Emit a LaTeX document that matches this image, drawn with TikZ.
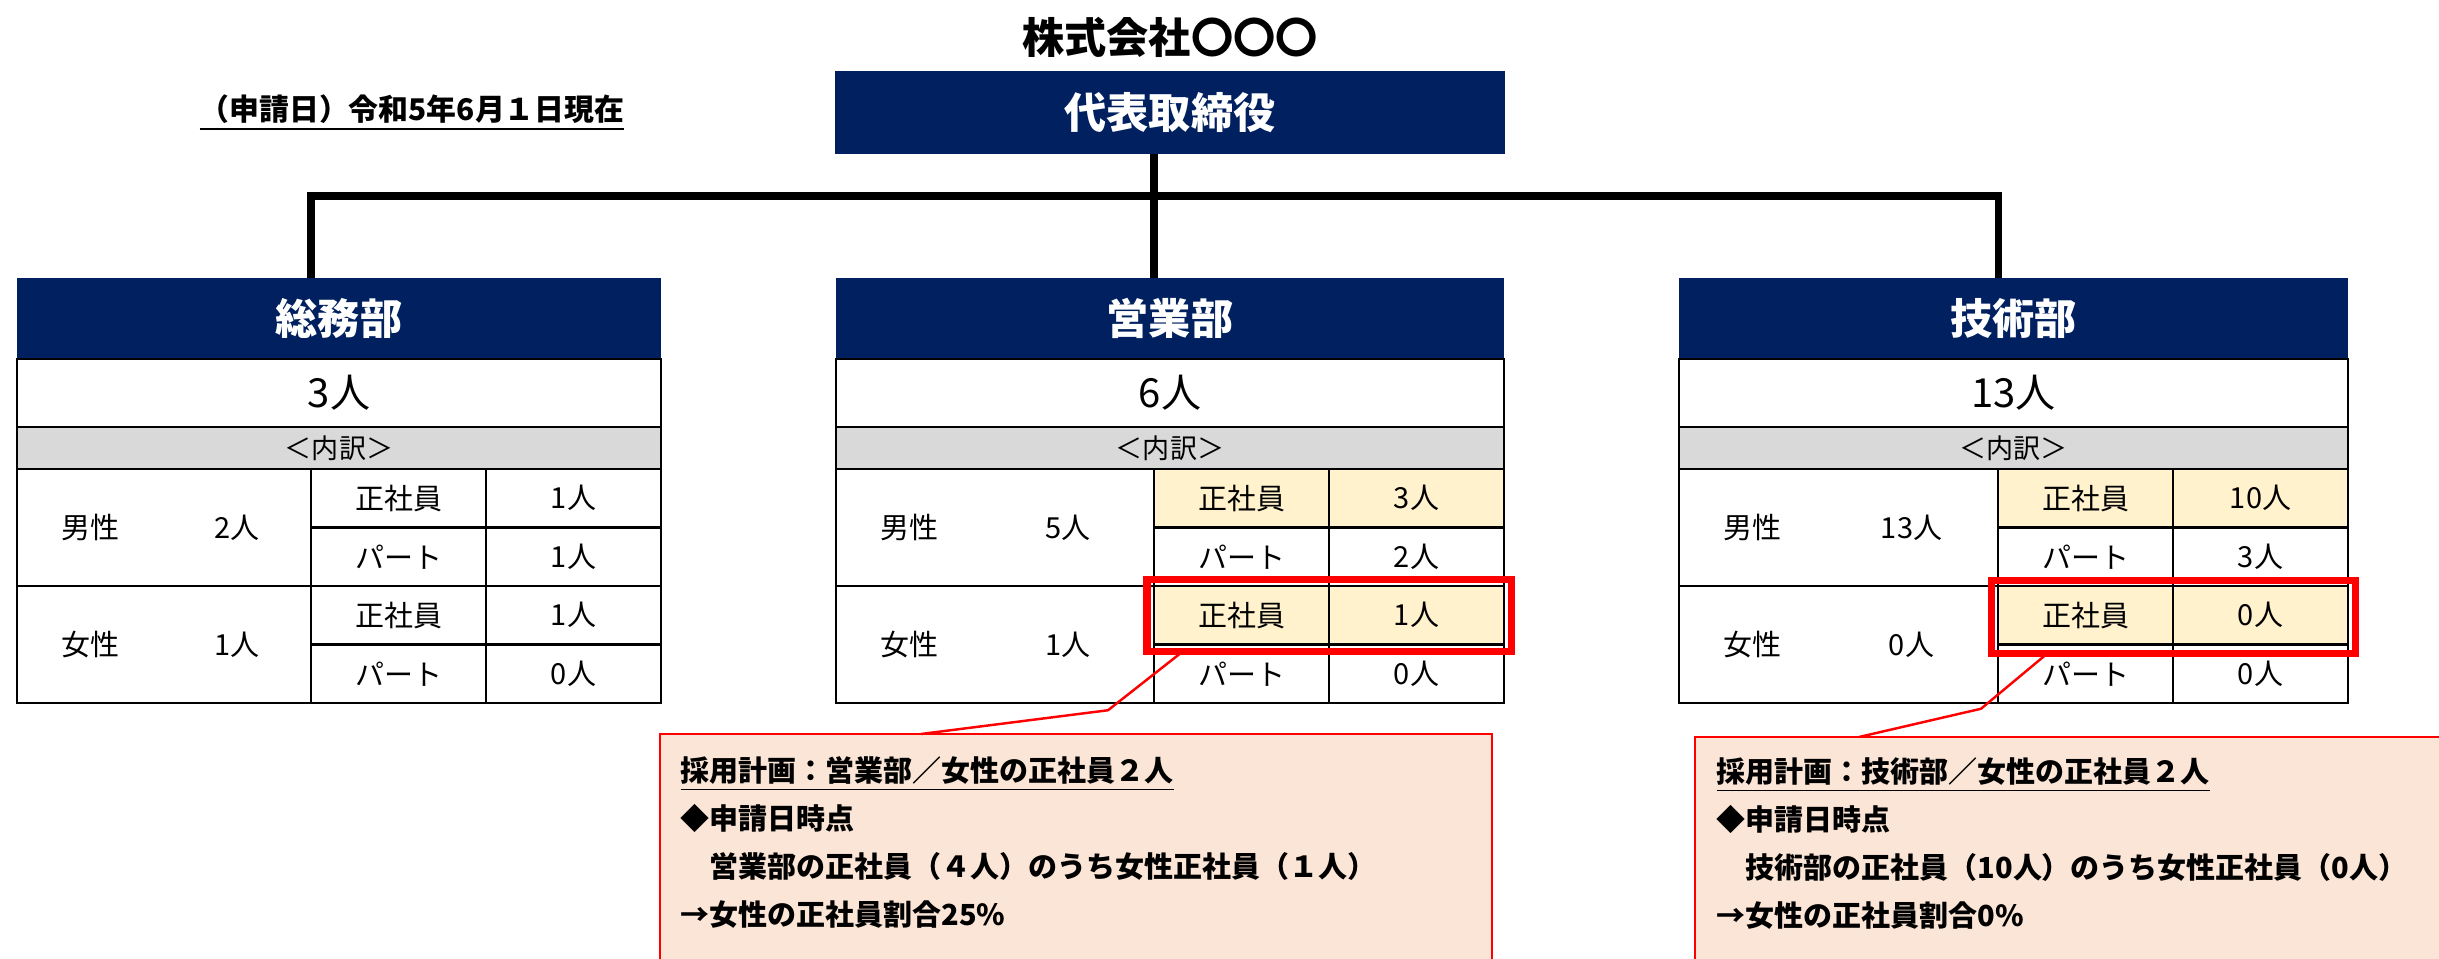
\documentclass[tikz,border=0pt]{standalone}
\usepackage{fontspec}
\setmainfont{Noto Sans CJK JP}
\usepackage{xcolor}
\usepackage{tikz}
\usetikzlibrary{positioning}
\definecolor{navy}{HTML}{002060}
\definecolor{breakgray}{HTML}{D9D9D9}
\definecolor{hiyellow}{HTML}{FFF2CC}
\definecolor{notepeach}{HTML}{FBE5D6}
\definecolor{alertred}{HTML}{FF0000}
\tikzstyle{corpname} = [inner sep=0pt, font=\fontsize{12}{14}\selectfont\bfseries]
\tikzstyle{boss} = [rectangle, fill=navy, text=white, minimum width=6.70cm, minimum height=0.83cm, inner sep=0pt, outer sep=0pt, font=\fontsize{12}{14}\selectfont\bfseries]
\tikzstyle{depthead} = [rectangle, fill=navy, text=white, minimum height=0.81cm, inner sep=0pt, outer sep=0pt, font=\fontsize{12}{14}\selectfont\bfseries]
\tikzstyle{totalrow} = [rectangle, draw=black, line width=0.7pt, minimum height=0.68cm, inner sep=0pt, outer sep=0pt, font=\fontsize{11.4}{13}\selectfont]
\tikzstyle{breakrow} = [rectangle, draw=black, fill=breakgray, line width=0.7pt, minimum height=0.42cm, inner sep=0pt, outer sep=0pt, font=\fontsize{7.7}{9}\selectfont]
\tikzstyle{block} = [rectangle, draw=black, line width=0.7pt, minimum height=1.17cm, inner sep=0pt, outer sep=0pt]
\tikzstyle{cell} = [rectangle, draw=black, line width=0.7pt, minimum width=1.75cm, minimum height=0.585cm, inner sep=0pt, outer sep=0pt, font=\fontsize{8.25}{10}\selectfont]
\tikzstyle{hicell} = [cell, fill=hiyellow]
\tikzstyle{txt} = [inner sep=0pt, outer sep=0pt, font=\fontsize{8.25}{10}\selectfont]
\tikzstyle{hilite} = [rectangle, draw=alertred, line width=2pt, minimum width=3.64cm, minimum height=0.72cm, inner sep=0pt, outer sep=0pt]
\tikzstyle{note} = [rectangle, draw=alertred, fill=notepeach, line width=0.7pt, minimum height=2.8cm, inner sep=0pt, outer sep=0pt, anchor=north west]
\tikzstyle{notetext} = [align=left, inner sep=0pt, font=\fontsize{8.25}{13.66}\selectfont\bfseries]
\tikzstyle{bus} = [line width=2pt]
\tikzstyle{callline} = [alertred, line width=0.7pt]

\begin{document}
\begin{tikzpicture}
		\useasboundingbox (0,0) rectangle (24.39,-9.59);
		\clip (0,0) rectangle (24.39,-9.59);
		\fill [white] (0,0) rectangle (24.39,-9.59);
		%公司与代表
		\node (corp) [corpname] at (11.70,-0.37) {株式会社〇〇〇};
		\node (ceo) [boss] at (11.70,-1.125) {代表取締役};
		\node (asof) [txt, font=\fontsize{8.5}{10}\selectfont\bfseries] at (4.12,-1.13) {\underline{（申請日）令和5年6月１日現在}};
		
		%三个部门的标题
		\node (hdB) [depthead, minimum width=6.68cm, below=1.24cm of ceo] {営業部};
		\node (hdA) [depthead, minimum width=6.44cm, left=1.75cm of hdB] {総務部};
		\node (hdC) [depthead, minimum width=6.69cm, right=1.75cm of hdB] {技術部};
		
		%総務部
		\node (totA) [totalrow, minimum width=6.44cm, below=0pt of hdA] {3人};
		\node (brkA) [breakrow, minimum width=6.44cm, below=0pt of totA] {＜内訳＞};
		\node (mA) [block, minimum width=2.94cm, below right=0pt and 0pt of brkA.south west] {};
		\node (fA) [block, minimum width=2.94cm, below=0pt of mA] {};
		\node (mAl) [txt, minimum width=1.46cm, right=0pt of mA.west] {男性};
		\node (mAn) [txt, minimum width=1.48cm, left=0pt of mA.east] {2人};
		\node (fAl) [txt, minimum width=1.46cm, right=0pt of fA.west] {女性};
		\node (fAn) [txt, minimum width=1.48cm, left=0pt of fA.east] {1人};
		\node (mAs) [cell, below right=0pt and 0pt of mA.north east] {正社員};
		\node (mAsv) [cell, right=0pt of mAs] {1人};
		\node (mAp) [cell, below=0pt of mAs] {パート};
		\node (mApv) [cell, below=0pt of mAsv] {1人};
		\node (fAs) [cell, below=0pt of mAp] {正社員};
		\node (fAsv) [cell, below=0pt of mApv] {1人};
		\node (fAp) [cell, below=0pt of fAs] {パート};
		\node (fApv) [cell, below=0pt of fAsv] {0人};
		
		%営業部
		\node (totB) [totalrow, minimum width=6.68cm, below=0pt of hdB] {6人};
		\node (brkB) [breakrow, minimum width=6.68cm, below=0pt of totB] {＜内訳＞};
		\node (mB) [block, minimum width=3.18cm, below right=0pt and 0pt of brkB.south west] {};
		\node (fB) [block, minimum width=3.18cm, below=0pt of mB] {};
		\node (mBl) [txt, minimum width=1.46cm, right=0pt of mB.west] {男性};
		\node (mBn) [txt, minimum width=1.72cm, left=0pt of mB.east] {5人};
		\node (fBl) [txt, minimum width=1.46cm, right=0pt of fB.west] {女性};
		\node (fBn) [txt, minimum width=1.72cm, left=0pt of fB.east] {1人};
		\node (mBs) [hicell, below right=0pt and 0pt of mB.north east] {正社員};
		\node (mBsv) [hicell, right=0pt of mBs] {3人};
		\node (mBp) [cell, below=0pt of mBs] {パート};
		\node (mBpv) [cell, below=0pt of mBsv] {2人};
		\node (fBs) [hicell, below=0pt of mBp] {正社員};
		\node (fBsv) [hicell, below=0pt of mBpv] {1人};
		\node (fBp) [cell, below=0pt of fBs] {パート};
		\node (fBpv) [cell, below=0pt of fBsv] {0人};
		
		%技術部
		\node (totC) [totalrow, minimum width=6.69cm, below=0pt of hdC] {13人};
		\node (brkC) [breakrow, minimum width=6.69cm, below=0pt of totC] {＜内訳＞};
		\node (mC) [block, minimum width=3.19cm, below right=0pt and 0pt of brkC.south west] {};
		\node (fC) [block, minimum width=3.19cm, below=0pt of mC] {};
		\node (mCl) [txt, minimum width=1.46cm, right=0pt of mC.west] {男性};
		\node (mCn) [txt, minimum width=1.73cm, left=0pt of mC.east] {13人};
		\node (fCl) [txt, minimum width=1.46cm, right=0pt of fC.west] {女性};
		\node (fCn) [txt, minimum width=1.73cm, left=0pt of fC.east] {0人};
		\node (mCs) [hicell, below right=0pt and 0pt of mC.north east] {正社員};
		\node (mCsv) [hicell, right=0pt of mCs] {10人};
		\node (mCp) [cell, below=0pt of mCs] {パート};
		\node (mCpv) [cell, below=0pt of mCsv] {3人};
		\node (fCs) [hicell, below=0pt of mCp] {正社員};
		\node (fCsv) [hicell, below=0pt of mCpv] {0人};
		\node (fCp) [cell, below=0pt of fCs] {パート};
		\node (fCpv) [cell, below=0pt of fCsv] {0人};
		
		%红框与说明
		\node (bHl) [hilite] at (fBs.east) {};
		\node (cHl) [hilite, minimum height=0.73cm] at ([yshift=-0.02cm]fCs.east) {};
		\node (bNote) [note, minimum width=8.32cm] at (6.60,-7.34) {};
		\node (bNoteTxt) [notetext, below right=0.22cm and 0.2cm of bNote.north west] {\underline{採用計画：営業部／女性の正社員２人}\\◆申請日時点\\　営業部の正社員（４人）のうち女性正社員（１人）\\→女性の正社員割合25\%};
		\node (cNote) [note, minimum width=8.00cm] at (16.95,-7.37) {};
		\node (cNoteTxt) [notetext, below right=0.2cm and 0.21cm of cNote.north west] {\underline{採用計画：技術部／女性の正社員２人}\\◆申請日時点\\　技術部の正社員（10人）のうち女性正社員（0人）\\→女性の正社員割合0\%};
		
		%连接线
		\draw [bus] (ceo.south -| mB.east) -- (hdB.north -| mB.east);
		\draw [bus] (hdA.north -| mA.east) -- ++(0,0.82) -| (hdC.north -| mC.east);
		\draw [callline] ([xshift=0.36cm]bHl.south west) -- ++(-0.75,-0.59) -- ([xshift=2.61cm]bNote.north west);
		\draw [callline] ([xshift=0.56cm]cHl.south west) -- ++(-0.66,-0.55) -- ([xshift=1.64cm]cNote.north west);
		
	\end{tikzpicture}
\end{document}
